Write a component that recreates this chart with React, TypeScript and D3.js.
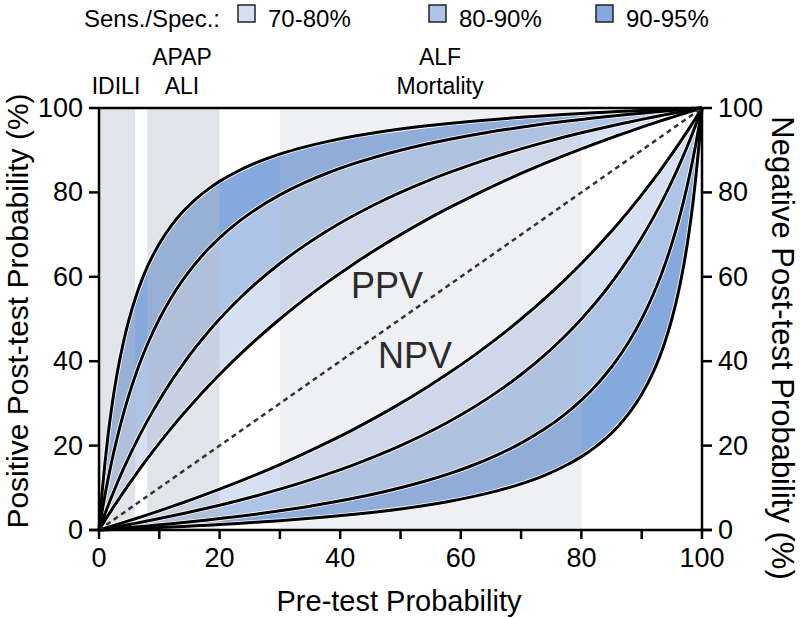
import React from "react";
import * as d3 from "d3";

// Sensitivity / specificity levels (sens = spec), in %
const sensSpecLevels = [70, 80, 90, 95];
// Bands between neighbouring levels
const bandLabels = ["70-80%", "80-90%", "90-95%"];
const bandColors = ["#d5e0f3", "#aec4e6", "#85a9dd"];
// Pre-test probabilities (%) at which the curves are evaluated
const preTest = [0, 0.25, 0.5, 1, 1.5, 2, 2.5, 3, 4, 5, 6, 7, 8, 10, 12, 14, 16, 18, 20, 23, 26, 30, 34, 38, 42, 46, 50, 54, 58, 62, 66, 70, 74, 77, 80, 82, 84, 86, 88, 90, 92, 93, 94, 95, 96, 97, 97.5, 98, 98.5, 99, 99.5, 99.75, 100];
// Clinical context regions on the pre-test axis
const regionNames = [["IDILI"], ["APAP", "ALI"], ["ALF", "Mortality"]];
const regionStart = [0, 8, 30];
const regionEnd = [6, 20, 80];
const regionShade = [0.4, 0.4, 0.22];
const xTicks = [0, 20, 40, 60, 80, 100];
const xMinorTicks = [10, 30, 50, 70, 90];
const yTicks = [0, 20, 40, 60, 80, 100];

const ppv = (p: number, s: number) => {
  const a = p * s;
  const b = (1 - p) * (1 - s);
  return a + b === 0 ? 0 : (100 * a) / (a + b);
};
const npvComp = (p: number, s: number) => {
  const a = p * (1 - s);
  const b = (1 - p) * s;
  return a + b === 0 ? 100 : (100 * a) / (a + b);
};

export default function App() {
  const W = 800, H = 618;
  const x = d3.scaleLinear().domain([0, 100]).range([99, 702]);
  const y = d3.scaleLinear().domain([0, 100]).range([530, 108]);
  const font = "'Liberation Sans', Arial, Helvetica, sans-serif";

  const curve = (f: (p: number, s: number) => number, lvl: number) =>
    preTest.map((p) => [p, f(p / 100, lvl / 100)] as [number, number]);

  const line = d3
    .line<[number, number]>()
    .x((d) => x(d[0]))
    .y((d) => y(d[1]))
    .curve(d3.curveMonotoneX);
  const area = d3
    .area<[number, number, number]>()
    .x((d) => x(d[0]))
    .y0((d) => y(d[1]))
    .y1((d) => y(d[2]))
    .curve(d3.curveMonotoneX);

  const bands: { d: string; c: string }[] = [];
  for (let i = 0; i < bandLabels.length; i++) {
    const lo = sensSpecLevels[i], hi = sensSpecLevels[i + 1];
    const fs = [ppv, npvComp];
    fs.forEach((f) => {
      const pts = preTest.map(
        (p) => [p, f(p / 100, lo / 100), f(p / 100, hi / 100)] as [number, number, number]
      );
      bands.push({ d: area(pts) || "", c: bandColors[i] });
    });
  }
  const lines: string[] = [];
  sensSpecLevels.forEach((lvl) => {
    lines.push(line(curve(ppv, lvl)) || "");
    lines.push(line(curve(npvComp, lvl)) || "");
  });

  const legendBoxX = [238, 429, 596];

  return (
    <svg width={W} height={H} style={{ position: "absolute", left: 0, top: 0 }} fontFamily={font}>
      <rect width={W} height={H} fill="#fff" />
      {bands.map((b, i) => (
        <path key={"b" + i} d={b.d} fill={b.c} stroke="#fff" strokeWidth={1} />
      ))}
      {regionStart.map((s, i) => (
        <rect
          key={"r" + i}
          x={x(s)}
          y={y(100)}
          width={x(regionEnd[i]) - x(s)}
          height={y(0) - y(100)}
          fill="rgb(181,188,200)"
          opacity={regionShade[i]}
        />
      ))}
      {lines.map((d, i) => (
        <path key={"w" + i} d={d} fill="none" stroke="#fff" strokeWidth={4.6} />
      ))}
      {lines.map((d, i) => (
        <path key={"l" + i} d={d} fill="none" stroke="#000" strokeWidth={3} />
      ))}
      <line x1={x(0)} y1={y(0)} x2={x(100)} y2={y(100)} stroke="#333" strokeWidth={2.5} strokeDasharray="5,4" />

      {/* frame / axes */}
      <line x1={x(0)} y1={y(100)} x2={x(100)} y2={y(100)} stroke="#000" strokeWidth={2.5} />
      <line x1={x(0)} y1={y(0) + 1} x2={x(0)} y2={y(100) - 1} stroke="#000" strokeWidth={2.5} />
      <line x1={x(100)} y1={y(0) + 1} x2={x(100)} y2={y(100) - 1} stroke="#000" strokeWidth={2.5} />
      <line x1={x(0) - 10} y1={y(0)} x2={x(100) + 10} y2={y(0)} stroke="#000" strokeWidth={2.5} />
      {xTicks.concat(xMinorTicks).map((t) => (
        <line key={"xt" + t} x1={x(t)} x2={x(t)} y1={y(0)} y2={y(0) + 9} stroke="#000" strokeWidth={2.5} />
      ))}
      {xTicks.map((t) => (
        <text key={"xl" + t} x={x(t)} y={567} fontSize={27} textAnchor="middle" fill="#000">
          {t}
        </text>
      ))}
      {yTicks.map((t) => (
        <g key={"yt" + t}>
          <line x1={x(0) - 10} x2={x(0)} y1={y(t)} y2={y(t)} stroke="#000" strokeWidth={2.5} />
          <line x1={x(100)} x2={x(100) + 10} y1={y(t)} y2={y(t)} stroke="#000" strokeWidth={2.5} />
          <text x={83} y={y(t) + 9} fontSize={27} textAnchor="end" fill="#000">
            {t}
          </text>
          <text x={718} y={y(t) + 9} fontSize={27} textAnchor="start" fill="#000">
            {t}
          </text>
        </g>
      ))}
      <text x={399} y={611} fontSize={29} textAnchor="middle" fill="#000">
        Pre-test Probability
      </text>
      <text transform="translate(28,311) rotate(-90)" fontSize={30} textAnchor="middle" fill="#000">
        Positive Post-test Probability (%)
      </text>
      <text transform="translate(772,348) rotate(90)" fontSize={31} textAnchor="middle" fill="#000">
        Negative Post-test Probability (%)
      </text>

      {/* PPV / NPV labels */}
      <text x={351} y={298} fontSize={36} fill="#2b2b2b">PPV</text>
      <text x={378} y={368} fontSize={36} fill="#2b2b2b">NPV</text>

      {/* region labels */}
      {regionNames.map((names, i) => {
        const cx = i === 0 ? 116 : i === 1 ? 182 : 440;
        const base = 94;
        return names.map((n, j) => (
          <text
            key={"rn" + i + j}
            x={cx}
            y={base - (names.length - 1 - j) * 29}
            fontSize={23}
            textAnchor="middle"
            fill="#000"
          >
            {n}
          </text>
        ));
      })}

      {/* legend */}
      <text x={220} y={27} fontSize={24} textAnchor="end" fill="#000">
        Sens./Spec.:
      </text>
      {bandLabels.map((lb, i) => (
        <g key={"lg" + i}>
          <rect x={legendBoxX[i]} y={5} width={17} height={17} fill={bandColors[i]} stroke="#222" strokeWidth={1.5} />
          <text x={legendBoxX[i] + 30} y={27} fontSize={24} fill="#000">
            {lb}
          </text>
        </g>
      ))}
    </svg>
  );
}
